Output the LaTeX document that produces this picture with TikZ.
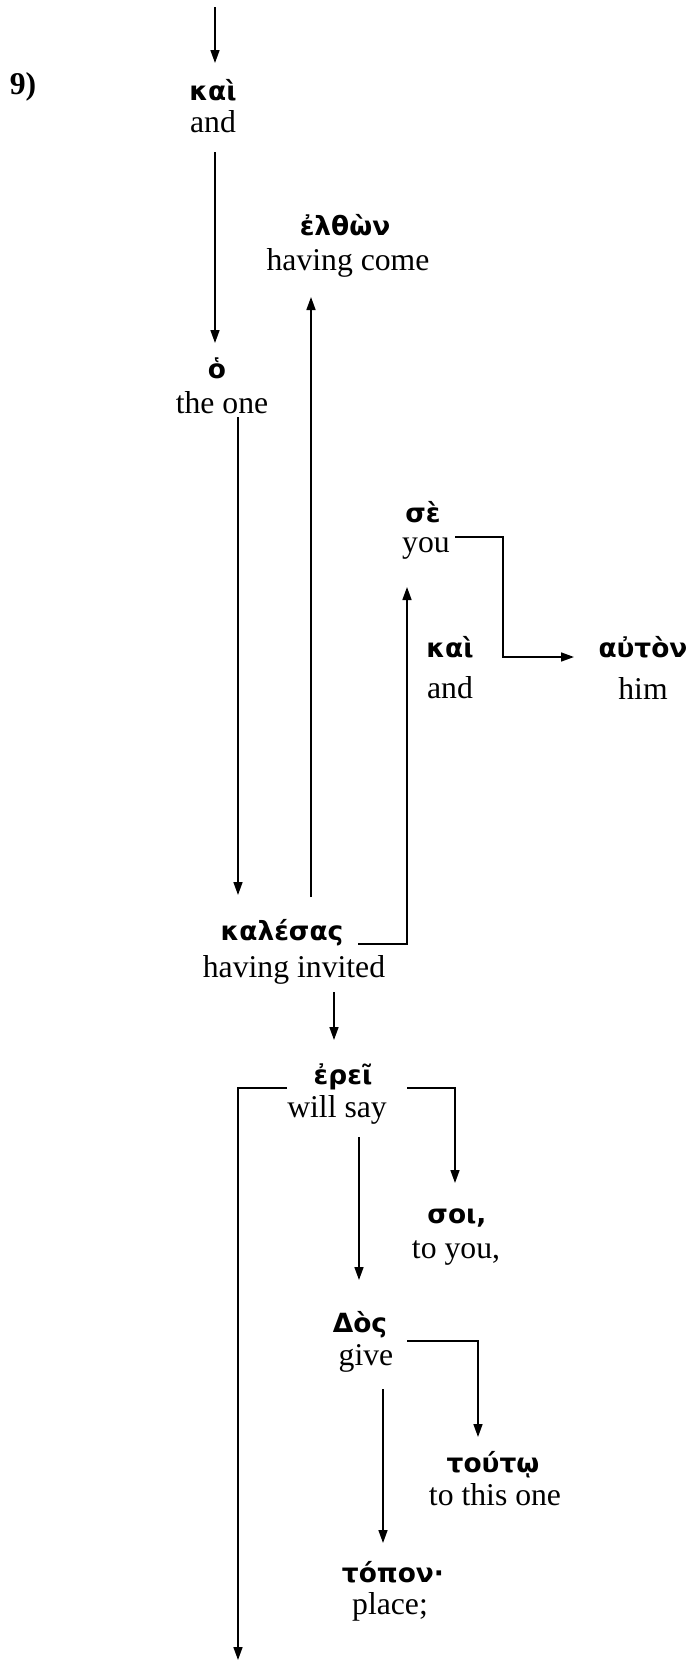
\documentclass[tikz,border=0pt]{standalone}
\usepackage{fontspec}
\setmainfont{Liberation Serif}
\newfontfamily\gkfont{DejaVu Sans}
\usetikzlibrary{arrows.meta,calc}
\begin{document}
\begin{tikzpicture}[x=0.5pt,y=-0.5pt,
  gk/.style={font=\gkfont\bfseries\fontsize{13.2}{16}\selectfont, inner sep=0pt},
  en/.style={font=\fontsize{15.85}{19}\selectfont, inner sep=0pt},
  conn/.style={line width=0.8pt},
  arr/.style={conn, -{Triangle[length=6.5pt,width=4.5pt]}}]
\useasboundingbox[fill=white] (0,0) rectangle (692,1661);

\node[en,font=\bfseries\fontsize{15.85}{19}\selectfont] (nine) at (23,87) {9)};

\node[gk] (kai1G) at (213,90) {καὶ};
\node[en] (kai1E) at (213,122) {and};
\node[gk] (oG) at (217,368) {ὁ};
\node[en] (oE) at (222,403) {the one};
\node[gk] (elthonG) at (345,225) {ἐλθὼν};
\node[en] (elthonE) at (348,263) {having come};
\node[gk] (seG) at (423,512) {σὲ};
\node[en] (seE) at (426,548) {you};
\node[gk] (kai2G) at (450,647) {καὶ};
\node[en] (kai2E) at (450,688) {and};
\node[gk] (autonG) at (643,647) {αὐτὸν};
\node[en] (autonE) at (643,688) {him};
\node[gk] (kalesasG) at (282,933) {καλέσας};
\node[en] (kalesasE) at (294,970) {having invited};
\node[gk] (ereiG) at (343,1077) {ἐρεῖ};
\node[en] (ereiE) at (337,1110) {will say};
\node[gk] (soiG) at (457,1218) {σοι,};
\node[en] (soiE) at (456,1253) {to you,};
\node[gk] (dosG) at (360,1325) {Δὸς};
\node[en] (dosE) at (366,1358) {give};
\node[gk] (toutwG) at (493,1465) {τούτῳ};
\node[en] (toutwE) at (495,1495) {to this one};
\node[gk] (toponG) at (393,1572) {τόπον·};
\node[en] (toponE) at (390,1607) {place;};

\coordinate (topin) at (215,7);
\coordinate (bottomout) at (238,1660);

\draw[arr] (topin) -- ($(kai1G.center)+(2,-27)$);
\draw[arr] ($(kai1E.center)+(2,30)$) -- ($(oG.center)+(-2,-25)$);
\draw[arr] ($(oE.center)+(16,14)$) -- ($(kalesasG.center)+(-44,-38)$);
\draw[arr] ($(kalesasG.center)+(29,-36)$) -- ($(elthonE.center)+(-37,34)$);
\draw[arr] ($(kalesasG.center)+(76,11)$) -| ($(seE.center)+(-19,39)$);
\draw[arr] ($(seE.center)+(29,-11)$) -- ++(48,0) |- ($(autonG.center)+(-69,10)$);
\draw[arr] ($(kalesasE.center)+(40,22)$) -- ($(ereiG.center)+(-9,-37)$);
\draw[arr] ($(ereiG.center)+(-56,11)$) -| (bottomout);
\draw[arr] ($(ereiG.center)+(64,11)$) -| ($(soiG.center)+(-2,-35)$);
\draw[arr] ($(ereiE.center)+(22,27)$) -- ($(dosG.center)+(-1,-45)$);
\draw[arr] ($(dosG.center)+(47,16)$) -| ($(toutwG.center)+(-15,-28)$);
\draw[arr] ($(dosE.center)+(17,31)$) -- ($(toponG.center)+(-10,-29)$);
\end{tikzpicture}
\end{document}
